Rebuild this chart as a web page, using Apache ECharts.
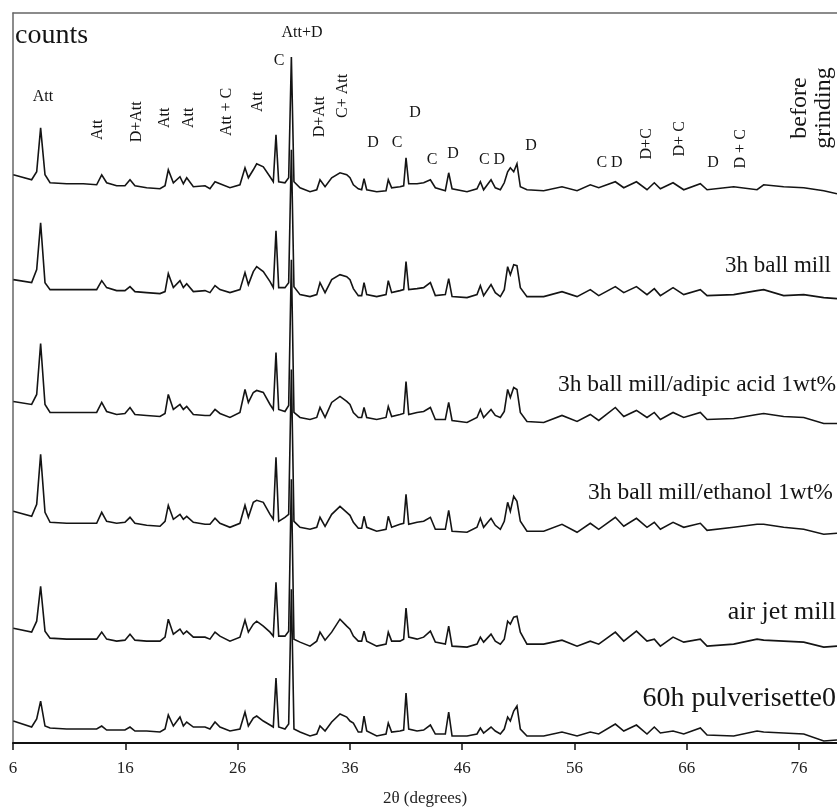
<!DOCTYPE html>
<html><head><meta charset="utf-8">
<script src="https://cdn.jsdelivr.net/npm/echarts@6/dist/echarts.min.js"></script>
<style>html,body{margin:0;padding:0;background:#fff}#c{width:837px;height:812px}</style>
</head><body><div id="c"></div>
<script>
// 2θ sample positions (degrees), shared by all patterns
const twoTheta = [6.03,7.66,8.11,8.46,8.85,9.30,10.78,12.26,13.45,13.90,
14.34,15.23,15.97,16.42,16.86,17.90,19.09,19.54,19.83,20.28,
20.87,21.17,21.47,22.06,23.10,23.54,23.99,24.43,25.32,26.21,
26.66,26.96,27.40,27.70,28.29,28.89,29.18,29.42,29.66,30.22,
30.55,30.79,31.02,31.56,32.45,33.05,33.34,33.79,34.38,35.12,
35.72,36.01,36.31,36.75,37.05,37.26,37.50,38.39,39.22,39.42,
39.72,40.46,40.79,41.00,41.24,41.98,42.57,43.17,43.61,44.50,
44.80,45.10,46.43,47.32,47.62,47.91,48.57,48.95,49.40,49.75,
50.05,50.29,50.59,50.88,51.18,51.77,53.26,54.89,56.23,57.41,
58.16,59.64,60.39,61.52,62.46,63.11,63.65,64.78,65.73,67.21,
67.81,70.18,72.26,72.85,74.63,76.42,78.20,79.38];

// counts (stacked, offset patterns as drawn)
const beforeGrinding = [569,564,572,616,569,561,560,560,559,569,
561,558,558,564,558,556,555,558,574,561,
567,560,566,557,558,555,562,560,556,559,
576,566,574,580,577,567,562,609,562,561,
566,687,562,556,552,554,564,557,566,571,
569,566,559,555,554,565,554,552,553,564,
556,557,558,586,560,560,561,564,556,553,
571,555,552,555,562,554,564,556,554,561,
572,576,572,580,557,554,553,557,553,559,
556,562,556,562,554,561,555,561,554,560,
554,557,554,559,557,556,553,550];

const ballMill3h = [464,461,474,521,461,454,454,454,454,463,
456,453,453,457,452,451,450,452,470,456,
463,456,460,452,453,451,458,454,451,454,
471,459,472,477,472,462,456,513,456,456,
461,594,457,449,447,449,461,451,464,469,
467,464,455,448,448,461,449,447,449,463,
451,453,454,482,454,455,456,461,448,449,
465,447,446,449,458,448,459,451,447,454,
477,469,479,478,456,447,447,452,447,454,
448,457,451,457,449,455,448,456,449,454,
448,449,453,454,448,449,446,445];

const ballMillAdipic = [342,339,349,400,339,331,331,331,331,341,
332,329,330,336,329,328,327,330,349,334,
339,334,337,329,328,328,334,330,326,331,
354,341,351,353,351,339,334,391,334,332,
338,484,331,326,324,326,336,326,341,347,
342,339,331,326,326,336,326,324,326,337,
327,329,330,362,329,331,332,336,324,324,
341,323,321,326,334,326,334,328,326,332,
354,346,356,354,331,322,321,328,322,329,
323,336,327,333,326,331,324,331,326,331,
324,325,329,330,327,326,320,320];

const ballMillEthanol = [232,227,239,289,231,221,220,220,220,231,
222,220,221,226,220,218,217,222,238,224,
229,224,227,221,219,219,225,220,216,220,
238,226,241,243,241,229,224,286,222,226,
229,374,222,216,214,216,226,217,229,237,
231,228,221,215,215,227,216,212,214,227,
216,219,220,249,219,221,222,226,214,214,
233,212,211,216,225,216,225,218,214,222,
241,232,247,242,222,212,212,219,211,220,
214,226,217,225,216,221,214,221,216,220,
213,216,219,219,216,214,209,210];

const airJetMill = [115,111,122,157,112,105,104,104,104,111,
104,102,103,109,103,102,102,106,124,109,
114,109,112,106,106,104,111,107,102,106,
123,111,119,122,117,111,107,161,107,107,
112,264,104,101,97,102,111,103,111,124,
117,114,107,102,102,112,102,97,99,111,
102,102,104,135,106,104,106,112,101,99,
117,97,96,99,106,101,109,102,99,104,
122,119,126,127,111,99,99,103,97,102,
99,111,102,112,102,104,97,106,101,104,
97,99,104,103,102,101,96,97];

const pulverisette60h = [22,16,24,42,17,15,14,14,14,17,
13,13,13,16,12,12,11,14,28,17,
26,17,21,16,16,14,21,16,12,14,
31,17,25,27,22,18,16,65,16,14,
19,154,14,11,7,9,17,12,21,29,
26,22,20,11,11,27,12,7,9,20,
11,12,13,50,14,12,13,18,9,9,
31,7,7,9,15,10,16,12,9,14,
26,22,32,37,14,7,7,11,7,11,
9,19,12,18,9,16,10,12,9,15,
8,7,12,11,10,9,2,3];

const sampleNames = ['before grinding','3h ball mill','3h ball mill/adipic acid 1wt%','3h ball mill/ethanol 1wt%','air jet mill','60h pulverisette0'];
const xTicks = [6,16,26,36,46,56,66,76];

// peak identification tags (Att = attapulgite, D = dolomite, C = calcite)
const peakTags = ['Att','Att','D+Att','Att','Att','Att + C','Att','C','Att+D','D+Att','C+ Att','D','C','D','C','D','C D','D','C D','D+C','D+ C','D','D + C'];
const peakTagTheta = [8.67,13.57,17.04,19.54,21.67,25.06,27.82,29.69,31.74,33.34,35.39,38.06,40.20,41.80,43.31,45.18,48.66,52.13,59.12,62.46,65.40,68.34,70.83];
const peakTagCounts = [647,614,622,626,626,632,642,683,711,627,648,601,601,631,584,590,584,598,581,600,605,581,595];
const peakTagVertical = [0,1,1,1,1,1,1,0,0,1,1,0,0,0,0,0,0,0,0,1,1,0,1];

const patterns = [beforeGrinding, ballMill3h, ballMillAdipic, ballMillEthanol, airJetMill, pulverisette60h];

const serif = 'Liberation Serif';
const ink = '#141414';
const chart = echarts.init(document.getElementById('c'), null, {renderer:'canvas'});

const lineSeries = patterns.map((vals, k) => ({
  name: sampleNames[k],
  type: 'line',
  data: twoTheta.map((t, i) => [t, vals[i]]),
  showSymbol: false,
  symbol: 'none',
  lineStyle: {color: ink, width: 1.6, join: 'miter', miterLimit: 4},
  silent: true,
  z: 2
}));

const tagSeries = {
  type: 'scatter',
  symbolSize: 0,
  silent: true,
  z: 5,
  itemStyle: {opacity: 1, color: ink},
  emphasis: {disabled: true},
  data: peakTags.map((s, i) => ({
    value: [peakTagTheta[i], peakTagCounts[i]],
    name: s,
    label: {rotate: peakTagVertical[i] ? 90 : 0}
  })),
  label: {
    show: true, position: 'inside', formatter: p => p.name,
    fontFamily: serif, fontSize: 16, color: ink, opacity: 1,
    textBorderWidth: 0,
    align: 'center', verticalAlign: 'middle'
  }
};

const txt = (text, x, y, size, align, extra) => Object.assign({
  type: 'text', x: x, y: y, silent: true, z: 10,
  style: {text: text, font: size + 'px "' + serif + '"', fill: ink, textAlign: align, textVerticalAlign: 'middle'}
}, extra || {});

chart.setOption({
  animation: false,
  backgroundColor: '#fff',
  grid: {left: 13, right: 0, top: 13, bottom: 68, containLabel: false},
  xAxis: [{
    type: 'value', min: 6, max: 79.38, position: 'bottom',
    axisLine: {show: true, onZero: false, lineStyle: {color: '#111', width: 2}},
    axisTick: {show: true, inside: false, length: 7, customValues: xTicks, lineStyle: {color: '#111', width: 1.5}},
    axisLabel: {customValues: xTicks, margin: 17, fontSize: 17, fontFamily: serif, color: '#222'},
    splitLine: {show: false},
    name: '2θ (degrees)', nameLocation: 'middle', nameGap: 47,
    nameTextStyle: {fontSize: 17, fontFamily: serif, color: '#222'}
  }, {
    type: 'value', min: 6, max: 79.38, position: 'top',
    axisLine: {show: true, onZero: false, lineStyle: {color: '#666', width: 1.5}},
    axisTick: {show: false}, axisLabel: {show: false}, splitLine: {show: false}
  }],
  yAxis: {
    type: 'value', min: 0, max: 731,
    axisLine: {show: true, onZero: false, lineStyle: {color: '#666', width: 1.5}},
    axisTick: {show: false}, axisLabel: {show: false}, splitLine: {show: false}
  },
  series: lineSeries.concat([tagSeries]),
  graphic: [
    txt('counts', 15, 36, 28, 'left'),
    txt('before\ngrinding', 812, 108, 24, 'center', {rotation: Math.PI / 2}),
    txt(sampleNames[1], 831, 266, 23, 'right'),
    txt(sampleNames[2], 836, 385, 23.5, 'right'),
    txt(sampleNames[3], 588, 493, 23.5, 'left'),
    txt(sampleNames[4], 836, 612, 26, 'right'),
    txt(sampleNames[5], 836, 699, 28, 'right')
  ]
});
</script></body></html>
